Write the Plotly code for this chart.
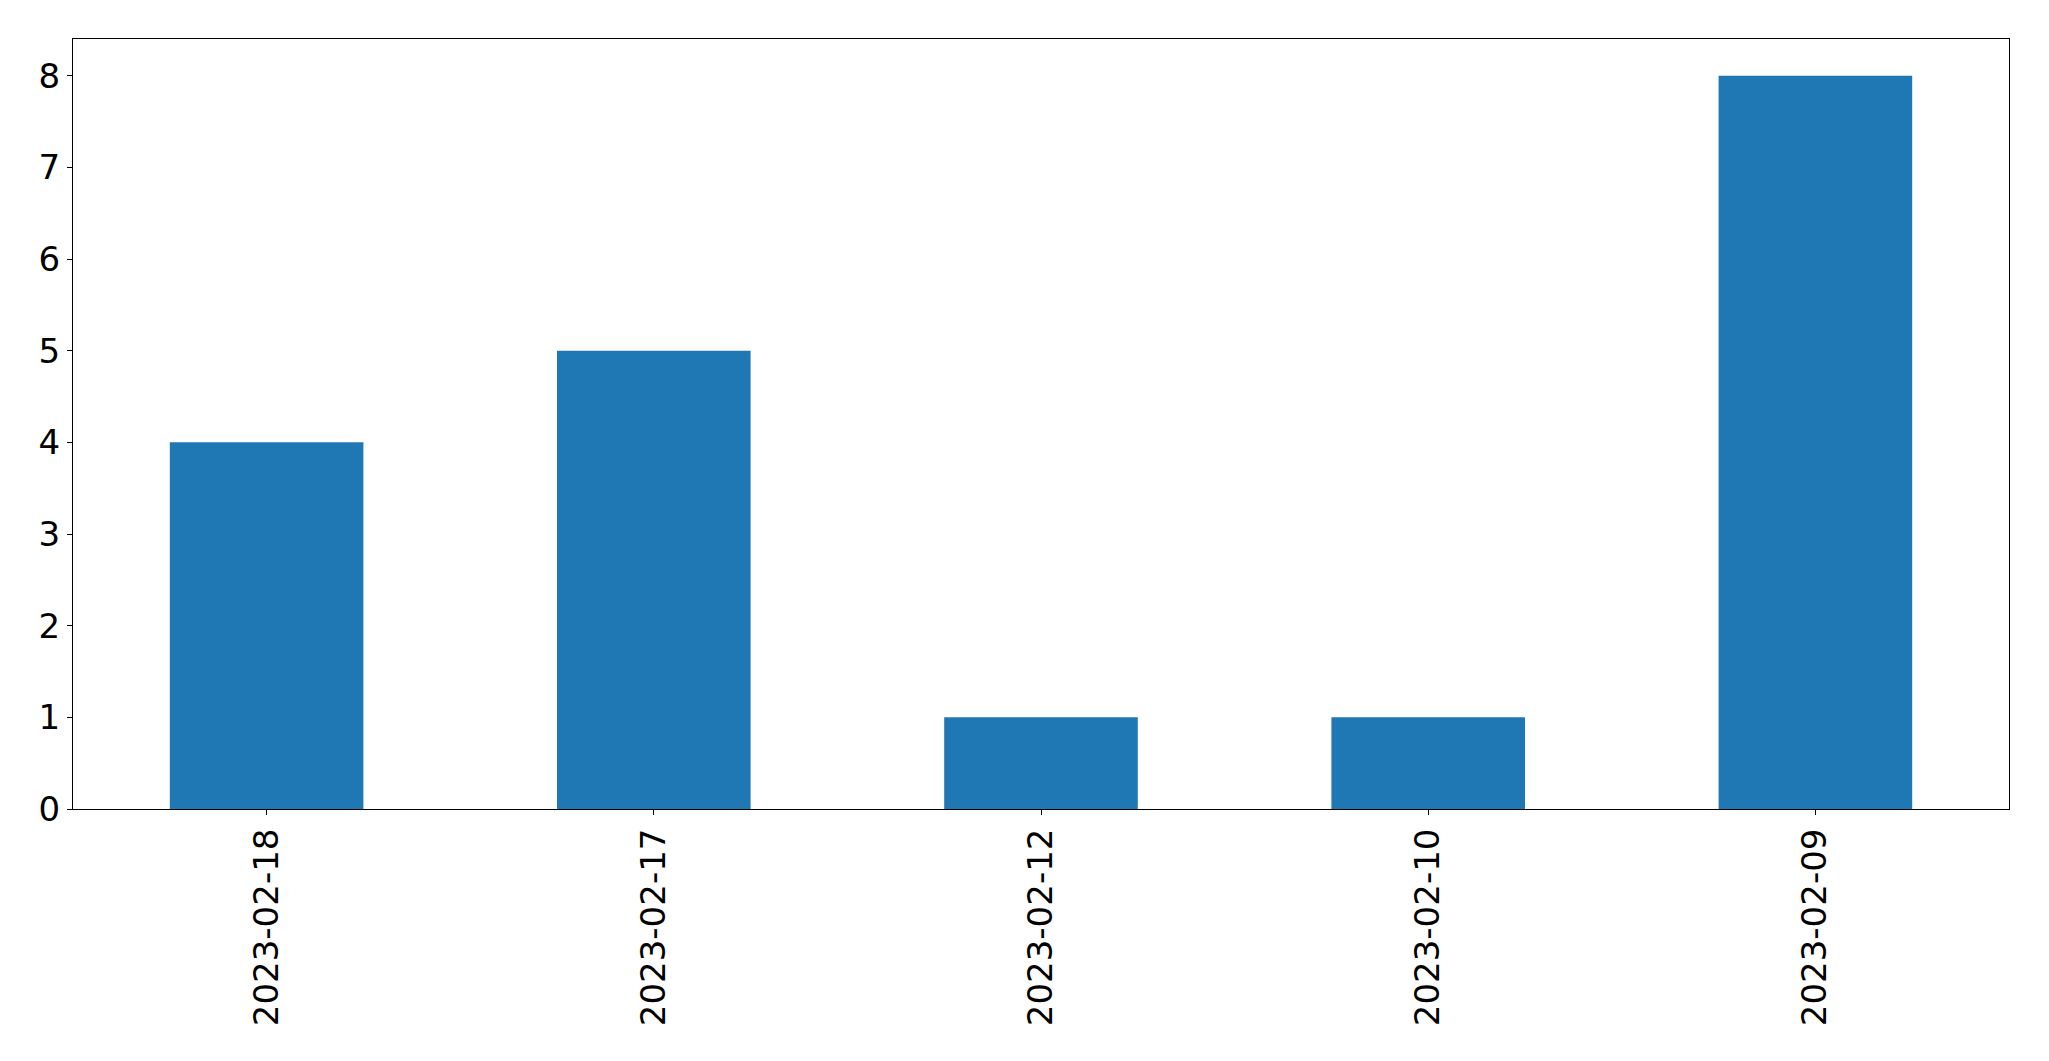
import plotly.graph_objects as go

categories = ["2023-02-18", "2023-02-17", "2023-02-12", "2023-02-10", "2023-02-09"]
values = [4, 5, 1, 1, 8]

fig = go.Figure(go.Bar(x=categories, y=values, width=0.5, marker=dict(color="#1f77b4", line=dict(width=0))))

W, H = 2049, 1061
fig.update_layout(
    width=W, height=H,
    margin=dict(l=65, r=48, t=31, b=260, pad=0),
    paper_bgcolor="white", plot_bgcolor="white",
    font=dict(family="DejaVu Sans", size=34, color="black"),
    showlegend=False,
)
fig.update_xaxes(
    type="category", range=[-0.5, 4.5], tickangle=-90,
    showline=True, linecolor="black", linewidth=1, mirror=True,
    ticks="outside", ticklen=5, tickcolor="black", showgrid=False,
    tickfont=dict(size=34),
)
fig.update_yaxes(
    range=[0, 8.4], dtick=1, tick0=0,
    showline=True, linecolor="black", linewidth=1, mirror=True,
    ticks="outside", ticklen=5, tickcolor="black", showgrid=False, zeroline=False,
    tickfont=dict(size=34),
)
fig.write_html("out.html")
